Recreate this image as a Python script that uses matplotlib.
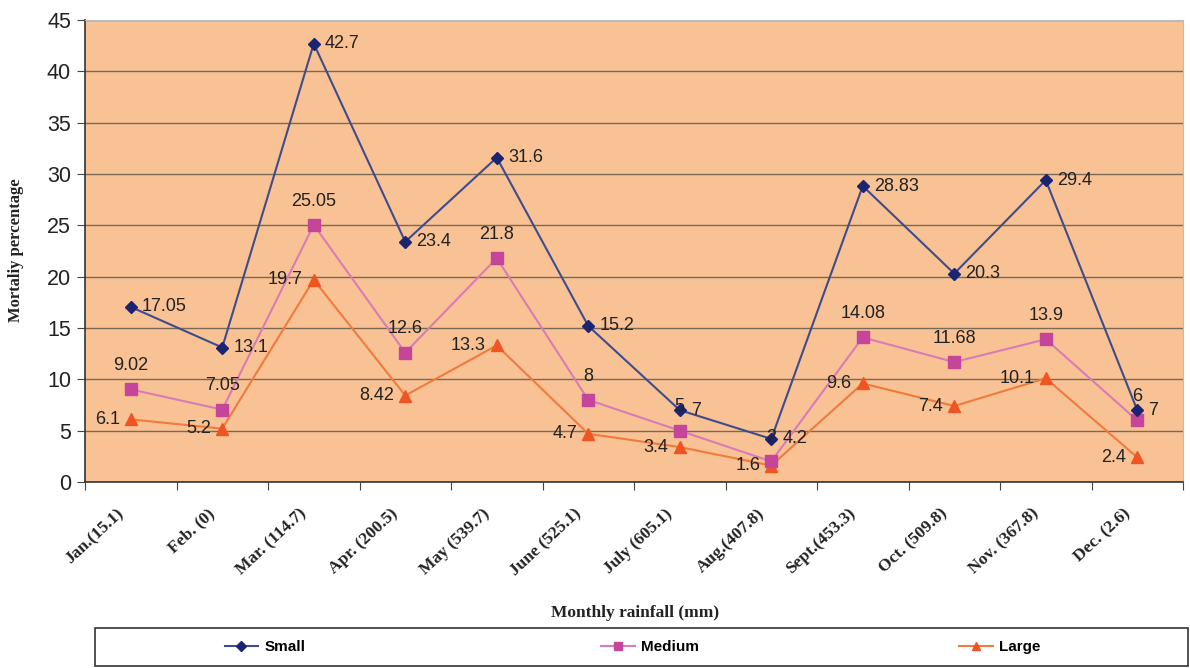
import matplotlib
matplotlib.use("Agg")
import matplotlib.pyplot as plt
import matplotlib.transforms as mtransforms
from matplotlib.lines import Line2D
from matplotlib.patches import Rectangle

months = ["Jan.(15.1)", "Feb. (0)", "Mar. (114.7)", "Apr. (200.5)", "May (539.7)",
          "June (525.1)", "July (605.1)", "Aug.(407.8)", "Sept.(453.3)", "Oct. (509.8)",
          "Nov. (367.8)", "Dec. (2.6)"]
small = [17.05, 13.1, 42.7, 23.4, 31.6, 15.2, 7, 4.2, 28.83, 20.3, 29.4, 7]
medium = [9.02, 7.05, 25.05, 12.6, 21.8, 8, 5, 2, 14.08, 11.68, 13.9, 6]
large = [6.1, 5.2, 19.7, 8.42, 13.3, 4.7, 3.4, 1.6, 9.6, 7.4, 10.1, 2.4]
yticks = [0, 5, 10, 15, 20, 25, 30, 35, 40, 45]

SANS = ["Liberation Sans", "DejaVu Sans"]
SERIF = ["Liberation Serif", "DejaVu Serif"]

fig = plt.figure(figsize=(11.9, 6.68), dpi=100)
fig.patch.set_facecolor("white")
ax = fig.add_axes([85/1190, 1-482/668, 1098/1190, (482-20)/668])
ax.set_facecolor("#F8C294")

x = list(range(len(months)))
c_small_line, c_small_m = "#3F4C8C", "#1A2470"
c_med_line, c_med_m = "#D87CB8", "#C4459A"
c_lar_line, c_lar_m = "#F07B3C", "#EE5522"

ax.plot(x, small, color=c_small_line, lw=1.5, marker="D", ms=6.5, mfc=c_small_m, mec=c_small_m, zorder=5)
ax.plot(x, medium, color=c_med_line, lw=1.5, marker="s", ms=8, mfc=c_med_m, mec=c_med_m, zorder=4)
ax.plot(x, large, color=c_lar_line, lw=1.5, marker="^", ms=8, mfc=c_lar_m, mec=c_lar_m, zorder=3)

fs = 13
for xi, v in zip(x, small):
    ax.annotate(f"{v:g}", (xi, v), xytext=(8, 0), textcoords="offset points",
                ha="left", va="center", fontsize=fs, family=SANS, color="#222222", zorder=6)
for xi, v in zip(x, medium):
    ax.annotate(f"{v:g}", (xi, v), xytext=(0, 11), textcoords="offset points",
                ha="center", va="bottom", fontsize=fs, family=SANS, color="#222222", zorder=6)
for xi, v in zip(x, large):
    ax.annotate(f"{v:g}", (xi, v), xytext=(-8, 0), textcoords="offset points",
                ha="right", va="center", fontsize=fs, family=SANS, color="#222222", zorder=6)

ax.set_xlim(-0.5, len(months) - 0.5)
ax.set_ylim(0, 45)
ax.set_yticks(yticks)
ax.set_yticklabels([str(t) for t in yticks], fontsize=15.5, family=SANS, color="#222222")
ax.yaxis.grid(True, color="#7A6A55", lw=1.0)
ax.set_axisbelow(True)

ax.set_xticks([i + 0.5 for i in range(-1, len(months))], minor=False)
ax.set_xticklabels([])
ax.set_xticks(x, minor=True)
ax.set_xticklabels(months, minor=True, rotation=43, ha="right", va="top",
                   fontsize=12.5, fontweight="bold", family=SERIF, color="#222222")
ax.tick_params(axis="x", which="minor", length=0, pad=17)
ax.tick_params(axis="x", which="major", length=6, color="#444444")
ax.tick_params(axis="y", length=6, color="#444444", pad=4)
offset = mtransforms.ScaledTranslation(-4/100, 0, fig.dpi_scale_trans)
for lab in ax.xaxis.get_minorticklabels():
    lab.set_transform(lab.get_transform() + offset)

for s in ["left", "bottom"]:
    ax.spines[s].set_color("#333333")
    ax.spines[s].set_linewidth(1.2)
for s in ["top", "right"]:
    ax.spines[s].set_color("#BBBBBB")
    ax.spines[s].set_linewidth(0.8)

fig.text(16/1190, 1-250/668, "Mortaliy percentage", rotation=90, ha="center", va="center",
         fontsize=12, fontweight="bold", family=SERIF, color="#222222")
fig.text(635/1190, 1-613/668, "Monthly rainfall (mm)", ha="center", va="center",
         fontsize=12.5, fontweight="bold", family=SERIF, color="#222222")

# legend box
fig.patches.append(Rectangle((95/1190, 1-666/668), 1093/1190, 38/668, transform=fig.transFigure,
                             fill=False, edgecolor="#333333", lw=1.2))
entries = [("Small", c_small_line, c_small_m, "D", 5, 265),
           ("Medium", c_med_line, c_med_m, "s", 6, 650),
           ("Large", c_lar_line, c_lar_m, "^", 6, 1000)]
for name, lc, mc, mk, ms, cx in entries:
    h = Line2D([], [], color=lc, lw=1.5, marker=mk, ms=ms, mfc=mc, mec=mc)
    fig.legend([h], [name], loc="center", bbox_to_anchor=(cx/1190, 1-647/668), frameon=False,
               prop={"family": SANS, "weight": "bold", "size": 11},
               handlelength=2.2, handletextpad=0.4)

fig.savefig("out.png", dpi=100)
